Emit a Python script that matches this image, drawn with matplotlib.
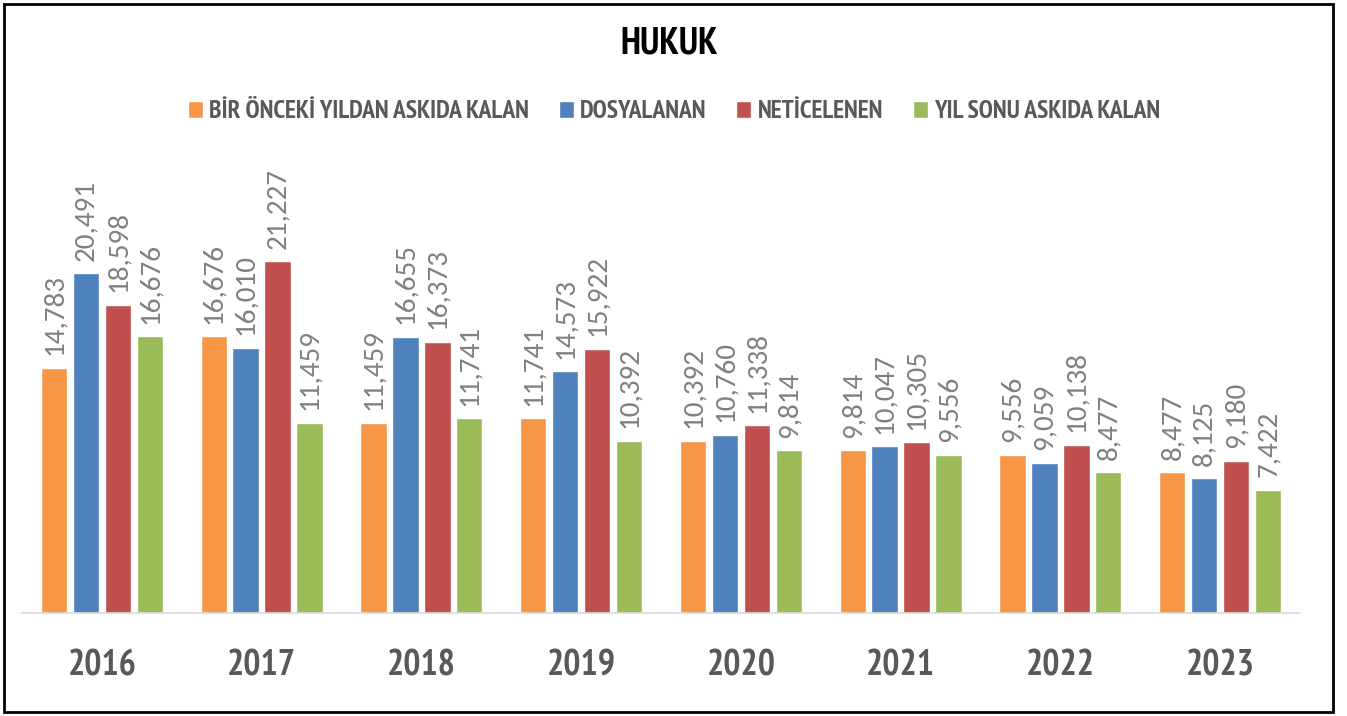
import numpy as np
import matplotlib.pyplot as plt
from matplotlib import font_manager
from matplotlib.patches import Patch, Rectangle

years = ["2016", "2017", "2018", "2019", "2020", "2021", "2022", "2023"]
onceki = [14783, 16676, 11459, 11741, 10392, 9814, 9556, 8477]
dosyalanan = [20491, 16010, 16655, 14573, 10760, 10047, 9059, 8125]
neticelenen = [18598, 21227, 16373, 15922, 11338, 10305, 10138, 9180]
yil_sonu = [16676, 11459, 11741, 10392, 9814, 9556, 8477, 7422]

series_names = ["BİR ÖNCEKİ YILDAN ASKIDA KALAN", "DOSYALANAN", "NETİCELENEN", "YIL SONU ASKIDA KALAN"]
colors = ["#F79646", "#4F81BD", "#C0504D", "#9BBB59"]

installed = set(f.name for f in font_manager.fontManager.ttflist)

def pick(cands):
    for c in cands:
        if c in installed:
            return c
    return "DejaVu Sans"

# narrow Calibri-like font for title / legend / years
head_font = pick(["PT Sans Narrow", "Fira Sans Condensed", "Roboto Condensed", "Liberation Sans Narrow"])
num_font = pick(["Carlito", "DejaVu Sans"])
num_size = 21 if num_font == "Carlito" else 15.5

fig = plt.figure(figsize=(13.47, 7.16), dpi=100)
ax = fig.add_axes([22/1347, 103/716, 1278/1347, 453/716])

x = np.arange(len(years))
series = [onceki, dosyalanan, neticelenen, yil_sonu]
for i, (vals, col) in enumerate(zip(series, colors)):
    pos = x + (i - 1.5) * 0.2
    bars = ax.bar(pos, vals, width=0.165, color=col, edgecolor="white", linewidth=1)
    for b, v in zip(bars, vals):
        ax.annotate(f"{v:,}", (b.get_x() + b.get_width() / 2, v),
                    xytext=(0, 9), textcoords="offset points",
                    rotation=90, ha="center", va="bottom",
                    fontsize=num_size, color="#808080", family=[num_font, "DejaVu Sans"])

ax.set_xlim(-0.5, 7.5)
ax.set_ylim(0, 27320)
ax.set_yticks([])
ax.set_xticks(x)
ax.set_xticklabels(years, fontsize=26, fontweight="bold", color="#595959",
                   family=[head_font, "DejaVu Sans"])
ax.tick_params(axis="x", length=0, pad=26)
for s in ["top", "right", "left"]:
    ax.spines[s].set_visible(False)
ax.spines["bottom"].set_color("#D9D9D9")
ax.spines["bottom"].set_linewidth(1.2)

fig.text(669/1347, 1 - 44/716, "HUKUK", ha="center", va="center",
         fontsize=27, fontweight="bold", color="black", family=[head_font, "DejaVu Sans"])

handles = [Patch(facecolor=c, edgecolor="white") for c in colors]
fig.legend(handles, series_names, loc="center", bbox_to_anchor=(674/1347, 1 - 112/716),
           ncol=4, frameon=False, handlelength=0.6, handleheight=0.6,
           handletextpad=0.25, columnspacing=1.15,
           prop={"family": [head_font, "DejaVu Sans"], "weight": "bold", "size": 18.4},
           labelcolor="#595959")

fig.add_artist(Rectangle((4/1347, 4/716), 1329/1347, 708/716, transform=fig.transFigure,
                         fill=False, edgecolor="black", linewidth=2))

plt.savefig("out.png", dpi=100)
